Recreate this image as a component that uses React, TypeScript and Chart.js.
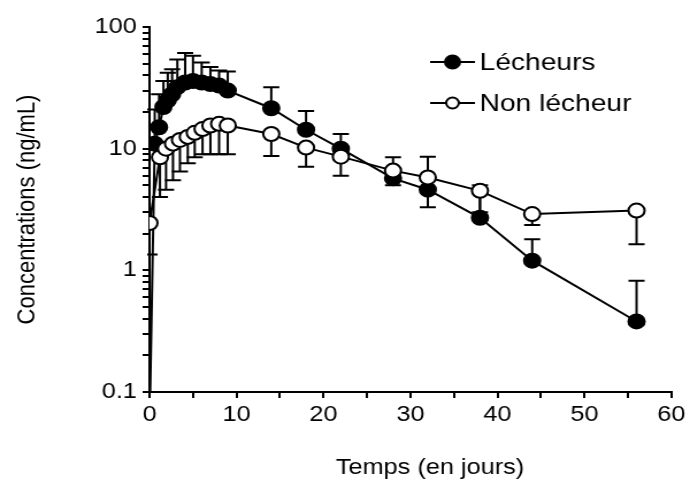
import React, { useEffect, useRef } from 'react';
import { Chart, registerables } from 'chart.js';
Chart.register(...registerables);

// ---- data ----
const lecheursLabel = 'Lécheurs';
const lecheursTimes = [0, 0.6, 1.1, 1.6, 2.1, 2.6, 3.2, 4.1, 5.0, 6.0, 7.0, 8.0, 9.0, 14, 18, 22, 28, 32, 38, 44, 56];
const lecheursValues = [0.05, 11, 15, 22, 25, 28, 32, 35, 36, 35, 34, 33, 30, 21.5, 14.3, 10, 5.7, 4.6, 2.7, 1.2, 0.38];
const lecheursUpper = [null, 21, 28, 36, 42, 45, 54, 61, 58, 51, 47, 44, 43, 32, 20.4, 13.2, 8.5, 8.6, 5.0, 1.8, 0.82];

const nonLabel = 'Non lécheur';
const nonTimes = [0, 1.2, 1.9, 2.7, 3.5, 4.4, 5.2, 6.1, 7.0, 8.0, 9.0, 14, 18, 22, 28, 32, 38, 44, 56];
const nonValues = [2.45, 8.5, 10, 11, 11.8, 12.5, 13.5, 14.5, 15.5, 16, 15.5, 13.2, 10.2, 8.6, 6.6, 5.8, 4.5, 2.9, 3.1];
const nonLower = [1.35, 4.0, 4.6, 5.5, 6.5, 7.6, 8.5, 9, 9, 9, 9, 8.7, 7.1, 6.0, 5.0, 3.3, 3.0, 2.36, 1.64];

const xTickLabels = ['0', '10', '20', '30', '40', '50', '60'];
const yTickLabels = ['0.1', '1', '10', '100'];
const xTitle = 'Temps (en jours)';
const yTitle = 'Concentrations (ng/mL)';

const FONT = "'Liberation Sans', Arial, sans-serif";

const errorBarPlugin = {
  id: 'errorBars',
  beforeDatasetsDraw(chart: any) {
    const { ctx, scales } = chart;
    const xs = scales.x, ys = scales.y;
    const ca = chart.chartArea;
    ctx.save();
    ctx.beginPath();
    ctx.rect(ca.left - 2, ca.top - 40, ca.width + 40, ca.height + 42);
    ctx.clip();
    ctx.strokeStyle = '#000';
    ctx.lineWidth = 2;
    chart.data.datasets.forEach((ds: any) => {
      const ends = ds.errorEnds as (number | null)[];
      ds.data.forEach((p: any, i: number) => {
        const e = ends[i];
        if (e == null) return;
        const x = xs.getPixelForValue(p.x);
        const y0 = ys.getPixelForValue(p.y);
        const y1 = ys.getPixelForValue(e);
        ctx.beginPath();
        ctx.moveTo(x, y0);
        ctx.lineTo(x, y1);
        ctx.moveTo(x - 7, y1);
        ctx.lineTo(x + 7, y1);
        ctx.stroke();
      });
    });
    ctx.restore();
  },
};

const annotationPlugin = {
  id: 'lineLegendAndTitle',
  afterDraw(chart: any) {
    const { ctx } = chart;
    const ca = chart.chartArea;
    ctx.save();
    // legend: line - marker - line, then label
    [0, 1].forEach((di, row) => {
      const ds = chart.data.datasets[di];
      const y = ca.top + 35 + row * 41;
      const x0 = ca.left + 244;
      const x1 = x0 + 39;
      const xm = (x0 + x1) / 2;
      ctx.strokeStyle = '#000';
      ctx.lineWidth = 2;
      ctx.beginPath();
      ctx.moveTo(x0, y);
      ctx.lineTo(x1, y);
      ctx.stroke();
      const r = row === 0 ? 6.5 : 5.5;
      ctx.beginPath();
      ctx.arc(xm, y, r, 0, Math.PI * 2);
      ctx.fillStyle = ds.pointBackgroundColor;
      ctx.fill();
      ctx.stroke();
      ctx.fillStyle = '#000';
      ctx.font = `24.5px ${FONT}`;
      ctx.textBaseline = 'middle';
      ctx.textAlign = 'left';
      ctx.fillText(ds.label, x1 + 4, y + 1);
    });
    // x axis title
    ctx.font = `22px ${FONT}`;
    ctx.textAlign = 'center';
    ctx.textBaseline = 'middle';
    ctx.fillStyle = '#000';
    ctx.fillText(xTitle, (ca.left + ca.right) / 2 + 17, ca.bottom + 76);
    ctx.restore();
  },
};

export default function App() {
  const ref = useRef<HTMLCanvasElement | null>(null);
  useEffect(() => {
    if (!ref.current) return;
    const yTicks: { value: number }[] = [];
    for (let e = -1; e <= 1; e++) {
      for (let m = 1; m <= 9; m++) yTicks.push({ value: +(m * Math.pow(10, e)).toPrecision(6) });
    }
    yTicks.push({ value: 100 });
    const chart = new Chart(ref.current, {
      type: 'line',
      data: {
        datasets: [
          {
            label: lecheursLabel,
            data: lecheursTimes.map((t, i) => ({ x: t, y: lecheursValues[i] })),
            borderColor: '#000',
            borderWidth: 2,
            pointBackgroundColor: '#000',
            pointBorderColor: '#000',
            pointBorderWidth: 2,
            pointRadius: 7,
            order: 2,
            errorEnds: lecheursUpper,
          } as any,
          {
            label: nonLabel,
            data: nonTimes.map((t, i) => ({ x: t, y: nonValues[i] })),
            borderColor: '#000',
            borderWidth: 2,
            pointBackgroundColor: '#fff',
            pointBorderColor: '#000',
            pointBorderWidth: 2,
            pointRadius: 7,
            order: 1,
            errorEnds: nonLower,
          } as any,
        ],
      },
      options: {
        responsive: false,
        devicePixelRatio: 1,
        animation: false,
        events: [],
        layout: { padding: { top: 27, right: 13, left: 0, bottom: 0 } },
        plugins: { legend: { display: false }, tooltip: { enabled: false } },
        scales: {
          x: {
            type: 'linear',
            min: 0,
            max: 60,
            afterFit: (s: any) => { s.height = 105; },
            border: { display: true, color: '#000', width: 2 },
            grid: { drawOnChartArea: false, drawTicks: true, tickLength: 6, color: '#000', lineWidth: 2 },
            ticks: {
              stepSize: 5,
              autoSkip: false,
              maxRotation: 0,
              color: '#000',
              padding: 4,
              font: { family: FONT, size: 22 },
              callback: (v: any) => {
                const idx = Math.round(Number(v) / 10);
                return Number(v) % 10 === 0 ? xTickLabels[idx] : '';
              },
            },
            title: { display: false },
          },
          y: {
            type: 'logarithmic',
            min: 0.1,
            max: 100,
            afterFit: (s: any) => { s.width = 130; },
            afterBuildTicks: (s: any) => { s.ticks = yTicks.map((t) => ({ ...t })); },
            border: { display: true, color: '#000', width: 2 },
            grid: { drawOnChartArea: false, drawTicks: true, tickLength: 6, color: '#000', lineWidth: 2 },
            ticks: {
              autoSkip: false,
              color: '#000',
              padding: 5,
              font: { family: FONT, size: 22 },
              callback: (v: any) => {
                const lg = Math.log10(Number(v));
                if (Math.abs(lg - Math.round(lg)) < 1e-6) return yTickLabels[Math.round(lg) + 1];
                return '';
              },
            },
            title: {
              display: true,
              text: yTitle,
              color: '#000',
              font: { family: FONT, size: 22 },
              padding: { top: 11, bottom: 0 },
            },
          },
        },
      },
      plugins: [errorBarPlugin, annotationPlugin],
    } as any);
    return () => chart.destroy();
  }, []);
  return (
    <div style={{ position: 'absolute', left: 0, top: 0, width: 690, height: 497, background: '#fff' }}>
      <canvas ref={ref} width={600} height={497} style={{ width: '690px', height: '497px', display: 'block' }} />
    </div>
  );
}
